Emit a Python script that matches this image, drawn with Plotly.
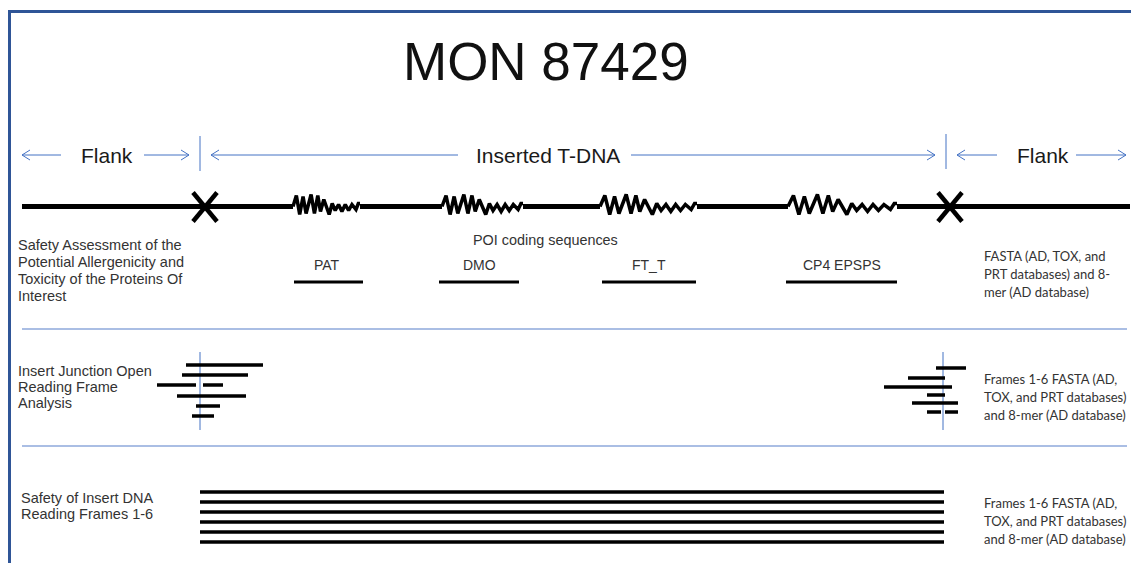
import plotly.graph_objects as go

W, H = 1131, 563

# ---------------- data ----------------
title_text = "MON 87429"
genes = ["PAT", "DMO", "FT_T", "CP4 EPSPS"]
gene_bar_start = [294, 439, 602, 786]
gene_bar_end = [363, 519, 696, 897]
squiggle_start = [293, 442, 600, 788]
squiggle_end = [360, 523, 697, 897]
# hand-read jagged shape of a coding sequence on the DNA line (fraction, offset)
squiggle_t = [0, .05, .10, .15, .195, .27, .32, .37, .41, .46, .54, .585, .63, .68,
              .73, .78, .83, .88, .94, .975, 1.0]
squiggle_dy = [0, -11, 8, -10, 7, -12, 7, -11, 5, -7, 8, -3, 4, -2, 5, -2, 4, -2, 3,
               -3, -3]
junctions = [205, 950]
left_orf_start = [186, 182, 157, 203, 177, 196, 192]
left_orf_end = [263, 248, 196, 223, 246, 220, 214]
left_orf_row = [365, 375, 385, 385, 396, 406, 416]
right_orf_start = [936, 908, 884, 927, 912, 927, 945]
right_orf_end = [966, 945, 952, 945, 958, 941, 958]
right_orf_row = [368, 378, 387, 395, 403, 412, 412]
frames = [1, 2, 3, 4, 5, 6]
frame_rows = [492, 502, 512, 522, 532, 542]
frame_start, frame_end = 200, 944

left_labels = [
    ["Safety Assessment of the", "Potential Allergenicity and",
     "Toxicity of the Proteins Of", "Interest"],
    ["Insert Junction Open", "Reading Frame", "Analysis"],
    ["Safety of Insert DNA", "Reading Frames 1-6"],
]
right_labels = [
    ["FASTA (AD, TOX, and", "PRT databases) and 8-", "mer (AD database)"],
    ["Frames 1-6 FASTA (AD,", "TOX, and PRT databases)", "and 8-mer (AD database)"],
    ["Frames 1-6 FASTA (AD,", "TOX, and PRT databases)", "and 8-mer (AD database)"],
]

# ---------------- styles / layout positions ----------------
BLACK = "#000000"
BLUE = "#4472C4"
LIGHTBLUE = "#8EA9DB"
FRAME = "#2F5597"
TXT = "#333333"
ARIAL = "Liberation Sans, Arial, sans-serif"
CALI = "Lato, Carlito, sans-serif"

fig = go.Figure()


def seg(xs, ys, color=BLACK, width=5):
    fig.add_trace(go.Scatter(x=xs, y=ys, mode="lines", hoverinfo="skip",
                             line=dict(color=color, width=width), showlegend=False))


def txt(x, y, s, size=14, anchor="left", color=TXT, family=ARIAL):
    fig.add_annotation(x=x, y=y, text=s, showarrow=False, xanchor=anchor,
                       yanchor="middle", font=dict(size=size, color=color, family=family))


# main DNA line pieces between coding sequences
dna_y = 206.5
breaks = [22] + [v for p in zip(squiggle_start, squiggle_end) for v in p] + [1130]
for i in range(0, len(breaks), 2):
    seg([breaks[i], breaks[i + 1]], [dna_y, dna_y], width=5)

# jagged coding sequences
for s0, s1 in zip(squiggle_start, squiggle_end):
    xs = [s0 + t * (s1 - s0) for t in squiggle_t]
    ys = [dna_y + d for d in squiggle_dy]
    seg(xs, ys, width=3.5)

# junction X marks
for jx in junctions:
    seg([jx - 12, jx + 12], [dna_y - 14, dna_y + 15], width=4.5)
    seg([jx - 12, jx + 12], [dna_y + 15, dna_y - 14], width=4.5)

# gene bars and labels
for g, a, b in zip(genes, gene_bar_start, gene_bar_end):
    seg([a, b], [282, 282], width=3)
    txt((a + b) / 2 + (0 if g != "PAT" else -2), 265, g, size=14, anchor="center")
txt(545, 240, "POI coding sequences", size=14.4, anchor="center")

# header arrows (Flank / Inserted T-DNA / Flank)
ay = 155


def arrow_line(x0, x1, head):
    seg([x0, x1], [ay, ay], color=BLUE, width=1)
    hx = x0 if head == "left" else x1
    d = 8 if head == "left" else -8
    seg([hx + d, hx, hx + d], [ay - 5, ay, ay + 5], color=BLUE, width=1)


arrow_line(22, 61, "left")
arrow_line(144, 189, "right")
arrow_line(211, 458, "left")
arrow_line(631, 935, "right")
arrow_line(957, 997, "left")
arrow_line(1076, 1126, "right")
seg([200, 200], [136, 171], color=BLUE, width=1)
seg([946, 946], [134, 169], color=BLUE, width=1)
txt(107, ay, "Flank", size=21, anchor="center", color="#1a1a1a")
txt(548, ay, "Inserted T-DNA", size=21, anchor="center", color="#1a1a1a")
txt(1043, ay, "Flank", size=21, anchor="center", color="#1a1a1a")

# title
txt(546, 61, title_text, size=53, anchor="center", color="#111111")

# separators
seg([22, 1127], [329, 329], color=LIGHTBLUE, width=1.5)
seg([22, 1127], [446, 446], color=LIGHTBLUE, width=1.5)

# junction ORFs
seg([200, 200], [352, 430], color=BLUE, width=1)
seg([943, 943], [352, 430], color=BLUE, width=1)
for a, b, r in zip(left_orf_start, left_orf_end, left_orf_row):
    seg([a, b], [r, r], width=3.5)
for a, b, r in zip(right_orf_start, right_orf_end, right_orf_row):
    seg([a, b], [r, r], width=3.5)

# reading frames
for f, r in zip(frames, frame_rows):
    seg([frame_start, frame_end], [r, r], width=3.5)

# left labels
for lines, y0, dy, x0 in zip(left_labels, [245, 371, 498], [17, 16, 16], [16, 16, 19]):
    for k, s in enumerate(lines):
        txt(x0, y0 + k * dy, s, size=14.5)

# right labels
for lines, y0, x0 in zip(right_labels, [256, 379, 503], [982, 982, 982]):
    for k, s in enumerate(lines):
        txt(x0, y0 + k * 18, s, size=13, family=CALI)

# border frame (top + left)
fig.add_shape(type="line", xref="x", yref="y", x0=8, x1=1131, y0=11.5, y1=11.5,
              line=dict(color=FRAME, width=3))
fig.add_shape(type="line", xref="x", yref="y", x0=9.5, x1=9.5, y0=10, y1=563,
              line=dict(color=FRAME, width=3))

fig.update_layout(
    width=W, height=H, margin=dict(l=0, r=0, t=0, b=0),
    paper_bgcolor="white", plot_bgcolor="white",
    xaxis=dict(range=[0, W], visible=False, fixedrange=True),
    yaxis=dict(range=[H, 0], visible=False, fixedrange=True),
    showlegend=False,
)

fig.write_html("out.html", config={"displayModeBar": False},
               post_script="document.body.style.margin='0';document.body.style.overflow='hidden';")
